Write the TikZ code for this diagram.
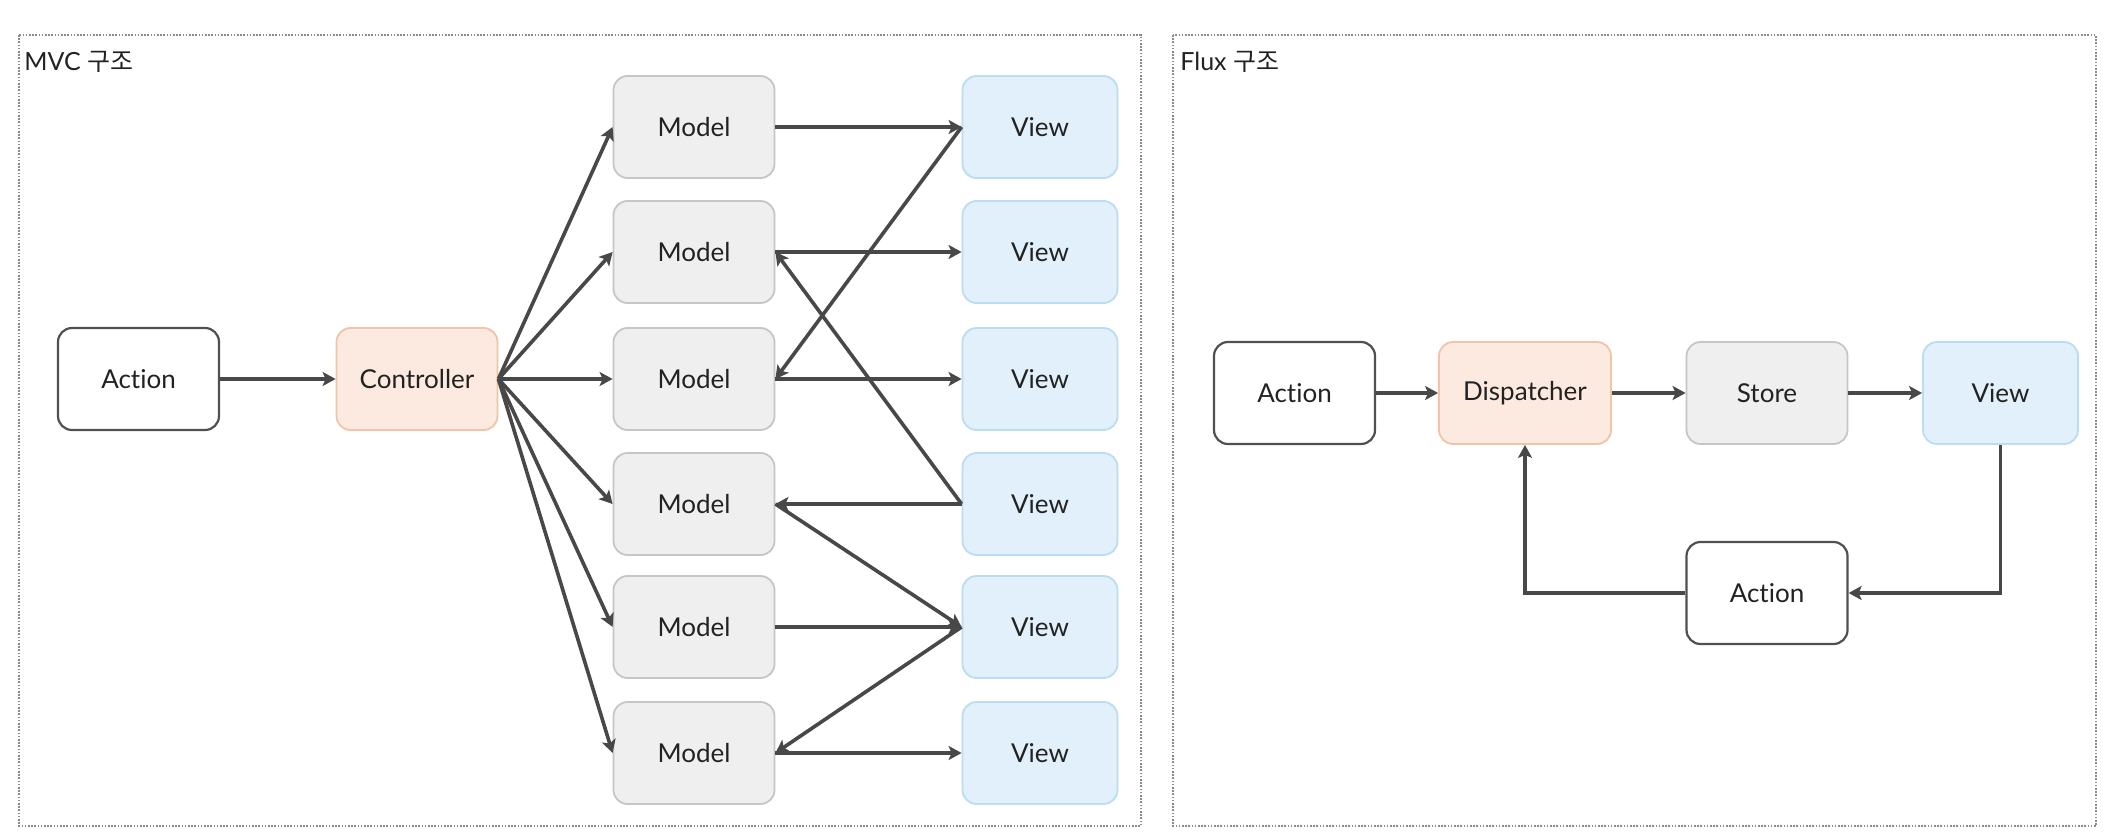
\documentclass[tikz,border=0pt]{standalone}
\usepackage{fontspec}
\setmainfont{Lato}[Ligatures=NoCommon]
\newfontfamily\kor{Noto Sans CJK KR}
\usetikzlibrary{arrows.meta}
\definecolor{txt}{HTML}{222222}
\definecolor{arrc}{HTML}{484848}
\definecolor{actline}{HTML}{505050}
\definecolor{ctrlfill}{HTML}{FCE9DF}
\definecolor{ctrlline}{HTML}{F0C4A8}
\definecolor{modfill}{HTML}{EFEFEF}
\definecolor{modline}{HTML}{C6C6C6}
\definecolor{viewfill}{HTML}{E1F0FA}
\definecolor{viewline}{HTML}{BCDDEF}
\definecolor{framec}{HTML}{8A8A8A}
\begin{document}
\begin{tikzpicture}[x=0.5pt,y=-0.5pt,
  box/.style={rounded corners=7pt, minimum width=80.5pt, minimum height=51pt, line width=0.9pt, font=\fontsize{13}{15}\selectfont, text=txt, inner sep=0pt},
  actbox/.style={box, draw=actline, fill=white, line width=1.1pt},
  ctrlbox/.style={box, draw=ctrlline, fill=ctrlfill},
  modelbox/.style={box, draw=modline, fill=modfill},
  viewbox/.style={box, draw=viewline, fill=viewfill, minimum width=77.5pt},
  arr/.style={draw=arrc, line width=1.8pt, -{Stealth[length=6.5pt,width=7pt,inset=1.5pt]}},
  frame/.style={draw=framec, line width=0.7pt, dash pattern=on 0.8pt off 0.8pt},
  title/.style={anchor=west, font=\fontsize{12.5}{15}\selectfont, text=txt, inner sep=0pt}
]
\useasboundingbox (0,0) rectangle (2109,840);
\fill[white] (0,0) rectangle (2109,840);

% frames
\draw[frame] (19,35) rectangle (1141,826);
\draw[frame] (1173,35) rectangle (2096,826);
\node[title] (t1) at (24,62) {MVC {\kor 구조}};
\node[title] (t2) at (1180,62) {Flux {\kor 구조}};

% MVC
\node[actbox] (a) at (138.5,379) {Action};
\node[ctrlbox] (c) at (417,379) {Controller};
\foreach \i/\y in {1/127,2/252,3/379,4/504,5/627,6/753}{
  \node[modelbox] (m\i) at (694,\y) {Model};
  \node[viewbox] (v\i) at (1040,\y) {View};
}
\draw[arr] (a) -- (c);
\foreach \i in {1,...,6}{
  \draw[arr] (c.east) -- (m\i.west);
}
\draw[arr] (m1.east) -- (v1.west);
\draw[arr] (m2.east) -- (v2.west);
\draw[arr] (m3.east) -- (v3.west);
\draw[arr] (v1.west) -- (m3.east);
\draw[arr] (v4.west) -- (m2.east);
\draw[arr] (v4.west) -- (m4.east);
\draw[arr] (m4.east) -- (v5.west);
\draw[arr] (m5.east) -- (v5.west);
\draw[arr] (v5.west) -- (m6.east);
\draw[arr] (m6.east) -- (v6.west);

% Flux
\node[actbox] (fa) at (1294.5,393) {Action};
\node[ctrlbox, minimum width=86pt] (d) at (1525,393) {Dispatcher};
\node[modelbox] (s) at (1767,393) {Store};
\node[viewbox] (fv) at (2000.5,393) {View};
\node[actbox] (fa2) at (1767,593) {Action};
\draw[arr] (fa) -- (d);
\draw[arr] (d) -- (s);
\draw[arr] (s) -- (fv);
\draw[arr] (fv.south) |- (fa2.east);
\draw[arr] (fa2.west) -| (d.south);
\end{tikzpicture}
\end{document}
